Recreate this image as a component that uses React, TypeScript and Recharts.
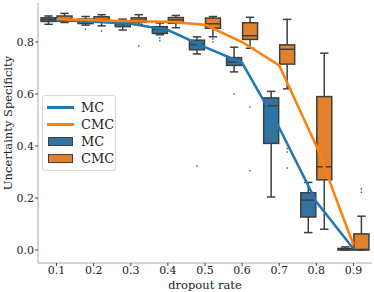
import { ComposedChart, Bar, Line, XAxis, YAxis } from "recharts";

document.body.style.margin = "0";

const rates = ["0.1", "0.2", "0.3", "0.4", "0.5", "0.6", "0.7", "0.8", "0.9"];
const yTicks = [0, 0.2, 0.4, 0.6, 0.8];

// MC box stats per dropout rate
const mcLow = [0.868, 0.865, 0.846, 0.828, 0.754, 0.685, 0.204, 0.067, 0.0];
const mcQ1 = [0.879, 0.871, 0.859, 0.833, 0.77, 0.71, 0.41, 0.127, 0.0];
const mcMed = [0.886, 0.88, 0.87, 0.848, 0.79, 0.723, 0.555, 0.192, 0.002];
const mcQ3 = [0.893, 0.888, 0.878, 0.859, 0.807, 0.74, 0.585, 0.22, 0.006];
const mcHigh = [0.9, 0.898, 0.888, 0.873, 0.82, 0.78, 0.61, 0.26, 0.012];
const mcMean = [0.885, 0.878, 0.87, 0.846, 0.78, 0.72, 0.47, 0.185, 0.005];
const mcOutliers = [[], [0.85], [], [0.815, 0.805], [0.323], [0.6], [], [], []];

// CMC box stats per dropout rate
const cmcLow = [0.875, 0.862, 0.868, 0.855, 0.82, 0.776, 0.62, 0.08, 0.0];
const cmcQ1 = [0.88, 0.878, 0.876, 0.872, 0.853, 0.81, 0.715, 0.27, 0.0];
const cmcMed = [0.89, 0.886, 0.884, 0.885, 0.87, 0.824, 0.772, 0.32, 0.002];
const cmcQ3 = [0.9, 0.897, 0.893, 0.894, 0.892, 0.874, 0.789, 0.59, 0.062];
const cmcHigh = [0.91, 0.905, 0.905, 0.902, 0.898, 0.895, 0.887, 0.757, 0.13];
const cmcMean = [0.888, 0.884, 0.88, 0.878, 0.866, 0.8, 0.71, 0.4, 0.02];
const cmcOutliers = [[], [0.842], [0.785], [], [0.812, 0.8], [0.55, 0.305], [0.39, 0.377, 0.315], [], [0.235, 0.222]];

const data = rates.map((rate, i) => ({
  rate,
  mc: { low: mcLow[i], q1: mcQ1[i], med: mcMed[i], q3: mcQ3[i], high: mcHigh[i], out: mcOutliers[i] },
  cmc: { low: cmcLow[i], q1: cmcQ1[i], med: cmcMed[i], q3: cmcQ3[i], high: cmcHigh[i], out: cmcOutliers[i] },
  mcRange: [mcLow[i], mcHigh[i]],
  cmcRange: [cmcLow[i], cmcHigh[i]],
  mcMean: mcMean[i],
  cmcMean: cmcMean[i],
}));

const font = "DejaVu Serif";
const edge = "#3f3f3f";
const frame = "#aaaaaa";
const mcBox = "#3274a1";
const cmcBox = "#e1812c";
const mcLine = "#1f77b4";
const cmcLine = "#ff7f0e";

const BoxShape = (props: any) => {
  const { x, y, width, height, payload, series, color } = props;
  const s = payload[series];
  const top = Math.min(y, y + height);
  const h = Math.abs(height);
  const px = h / (s.high - s.low);
  const yOf = (v: number) => top + (s.high - v) * px;
  const cx = x + width / 2;
  const cap = width * 0.28;
  return (
    <g>
      <line x1={cx} x2={cx} y1={yOf(s.high)} y2={yOf(s.q3)} stroke={edge} strokeWidth={1.5} />
      <line x1={cx} x2={cx} y1={yOf(s.q1)} y2={yOf(s.low)} stroke={edge} strokeWidth={1.5} />
      <line x1={cx - cap} x2={cx + cap} y1={yOf(s.high)} y2={yOf(s.high)} stroke={edge} strokeWidth={1.5} />
      <line x1={cx - cap} x2={cx + cap} y1={yOf(s.low)} y2={yOf(s.low)} stroke={edge} strokeWidth={1.5} />
      <rect x={x} y={yOf(s.q3)} width={width} height={Math.max(yOf(s.q1) - yOf(s.q3), 0.5)} fill={color} stroke={edge} strokeWidth={1.5} />
      <line x1={x} x2={x + width} y1={yOf(s.med)} y2={yOf(s.med)} stroke={edge} strokeWidth={1.5} />
      {s.out.map((v: number, i: number) => (
        <circle key={i} cx={cx} cy={yOf(v)} r={0.8} fill={edge} />
      ))}
    </g>
  );
};

const legendItems = [
  { name: "MC", kind: "line", color: mcLine },
  { name: "CMC", kind: "line", color: cmcLine },
  { name: "MC", kind: "box", color: mcBox },
  { name: "CMC", kind: "box", color: cmcBox },
];

const YLabel = (props: any) => {
  const { viewBox } = props;
  const x = viewBox.x + 8;
  const y = viewBox.y + viewBox.height / 2 - 10;
  return (
    <text x={x} y={y} transform={`rotate(-90 ${x} ${y})`} textAnchor="middle" dominantBaseline="central" fontFamily={font} fontSize={11.5} fill="#222">
      Uncertainty Specificity
    </text>
  );
};

const App = () => {
  return (
    <div style={{ position: "relative", width: 374, height: 292 }}>
      <ComposedChart width={374} height={292} data={data} margin={{ top: 3, right: 2, left: 0, bottom: 0 }} barCategoryGap={3} barGap={1}>
        <XAxis
          dataKey="rate"
          height={29}
          tickSize={3}
          tickMargin={0}
          tick={{ fontFamily: font, fontSize: 11, fill: "#222" }}
          tickLine={{ stroke: "#444" }}
          axisLine={{ stroke: frame }}
          label={{ value: "dropout rate", position: "insideBottom", offset: 3, fontFamily: font, fontSize: 11.5, fill: "#222" }}
        />
        <XAxis xAxisId="top" dataKey="rate" orientation="top" height={0} tick={false} tickLine={false} axisLine={{ stroke: frame }} />
        <YAxis
          width={38}
          domain={[-0.05, 0.95]}
          allowDataOverflow
          ticks={yTicks}
          tickFormatter={(v: number) => v.toFixed(1)}
          tickSize={3}
          tickMargin={1}
          tick={{ fontFamily: font, fontSize: 11, fill: "#222" }}
          tickLine={{ stroke: "#444" }}
          axisLine={{ stroke: frame }}
          label={<YLabel />}
        />
        <YAxis yAxisId="right" orientation="right" width={0} domain={[-0.05, 0.95]} tick={false} tickLine={false} axisLine={{ stroke: frame }} />
        <Bar dataKey="mcRange" isAnimationActive={false} shape={(p: any) => <BoxShape {...p} series="mc" color={mcBox} />} />
        <Bar dataKey="cmcRange" isAnimationActive={false} shape={(p: any) => <BoxShape {...p} series="cmc" color={cmcBox} />} />
        <Line dataKey="mcMean" type="linear" stroke={mcLine} strokeWidth={2.5} dot={false} isAnimationActive={false} />
        <Line dataKey="cmcMean" type="linear" stroke={cmcLine} strokeWidth={2.5} dot={false} isAnimationActive={false} />
      </ComposedChart>
      <div
        style={{
          position: "absolute",
          left: 42,
          top: 95,
          width: 74,
          boxSizing: "border-box",
          padding: "2.5px 0 3.5px 4px",
          border: "1px solid #d8d8d8",
          borderRadius: 3,
          background: "rgba(255,255,255,0.8)",
          fontFamily: font,
          fontSize: 13,
          color: "#222",
        }}
      >
        {legendItems.map((it, i) => (
          <div key={i} style={{ display: "flex", alignItems: "center", height: 17 }}>
            {it.kind === "line" ? (
              <div style={{ width: 27, height: 3, background: it.color }} />
            ) : (
              <div style={{ width: 25, height: 9, background: it.color, border: `1px solid ${edge}`, boxSizing: "border-box", marginLeft: 1, marginRight: 1 }} />
            )}
            <span style={{ marginLeft: 7, lineHeight: "17px" }}>{it.name}</span>
          </div>
        ))}
      </div>
    </div>
  );
};

export default App;
